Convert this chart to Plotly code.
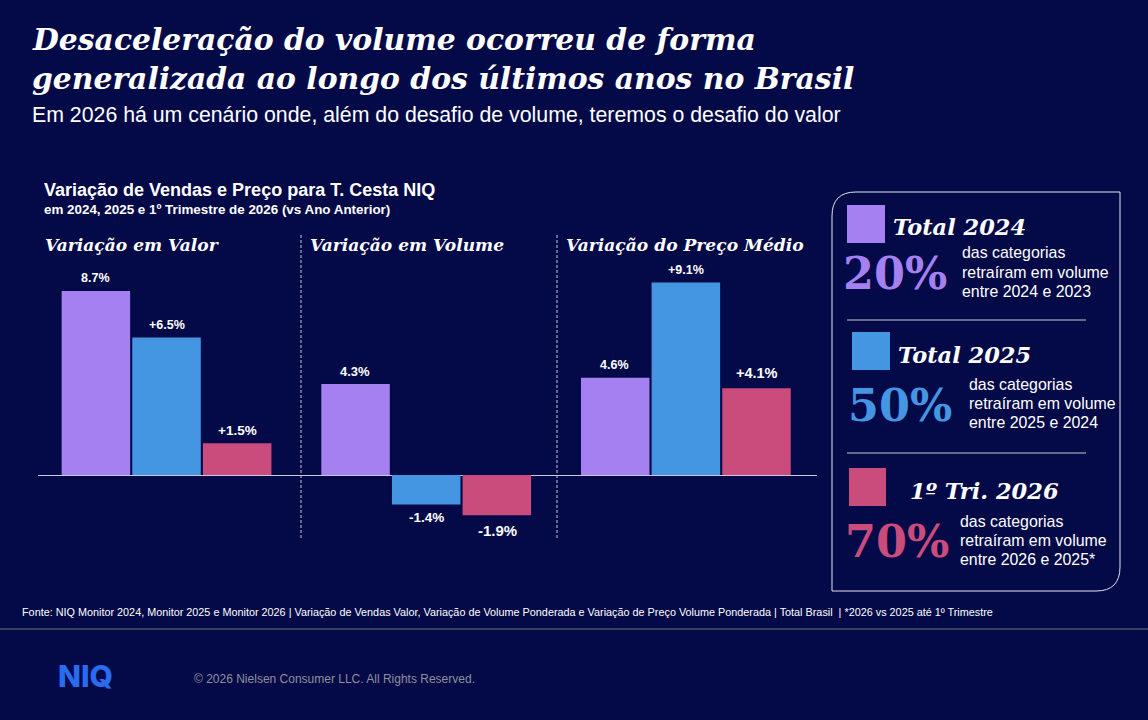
import plotly.graph_objects as go

W, H = 1148, 720
BG = '#040A48'
SERIF = 'DejaVu Serif'
SANS = 'Liberation Sans'

groups = ['Variação em Valor', 'Variação em Volume', 'Variação do Preço Médio']
periods = ['Total 2024', 'Total 2025', '1º Tri. 2026']
values_2024 = [8.7, 4.3, 4.6]
values_2025 = [6.5, -1.4, 9.1]
values_2026 = [1.5, -1.9, 4.1]
labels_2024 = ['8.7%', '4.3%', '4.6%']
labels_2025 = ['+6.5%', '-1.4%', '+9.1%']
labels_2026 = ['+1.5%', '-1.9%', '+4.1%']
colors = ['#A480F0', '#4596E2', '#C94C7C']
shares = ['20%', '50%', '70%']
share_lines = [
    ['das categorias', 'retraíram em volume', 'entre 2024 e 2023'],
    ['das categorias', 'retraíram em volume', 'entre 2025 e 2024'],
    ['das categorias', 'retraíram em volume', 'entre 2026 e 2025*'],
]


def px(x):
    return x / W


def py(y):
    return 1 - y / H


fig = go.Figure()

series = [(values_2024, labels_2024, [12.5, 13, 12.5]),
          (values_2025, labels_2025, [12.5, 13.5, 12.5]),
          (values_2026, labels_2026, [13.5, 15, 14.5])]
annotations = []
for i, (vals, labs, sizes) in enumerate(series):
    fig.add_trace(go.Bar(
        x=[0, 1, 2],
        y=vals,
        name=periods[i],
        marker=dict(color=colors[i], line=dict(width=0)),
        cliponaxis=False,
    ))
    # bar labels sit further from the bar than textposition='outside' allows
    for k, (v, lab, s) in enumerate(zip(vals, labs, sizes)):
        gap = 13 if s < 14 else 15
        annotations.append(dict(
            x=k + (i - 1) * 0.274, y=v, xref='x', yref='y', text=lab, showarrow=False,
            yanchor='middle', yshift=gap if v > 0 else -gap, borderpad=0,
            font=dict(family=SANS, size=s, color='white', weight='bold'),
        ))


def txt(x, y, s, size, color='white', family=SANS, bold=False, italic=False, anchor='left', weight=None):
    annotations.append(dict(
        x=px(x), y=py(y), xref='paper', yref='paper', text=s, showarrow=False,
        xanchor=anchor, yanchor='middle', borderpad=0,
        font=dict(family=family, size=size, color=color,
                  weight=weight or ('bold' if bold else 'normal'),
                  style='italic' if italic else 'normal'),
    ))


# header
txt(31, 39, 'Desaceleração do volume ocorreu de forma', 29.8, family=SERIF, bold=True, italic=True)
txt(31, 78, 'generalizada ao longo dos últimos anos no Brasil', 29.8, family=SERIF, bold=True, italic=True)
txt(31, 115, 'Em 2026 há um cenário onde, além do desafio de volume, teremos o desafio do valor', 21.3)

# chart titles
txt(43, 190, 'Variação de Vendas e Preço para T. Cesta NIQ', 18, bold=True)
txt(43, 209, 'em 2024, 2025 e 1º Trimestre de 2026 (vs Ano Anterior)', 13.4, bold=True)
for x, g in zip([44, 309, 565], groups):
    txt(x, 245, g, 17.1, family=SERIF, bold=True, italic=True)

# side panel
heads = [(892, 227), (897, 355), (909, 491)]
big = [(842, 273), (847, 405), (844, 541)]
note_x = [961, 968, 959]
note_y = [253, 384, 521]
for i in range(3):
    txt(heads[i][0], heads[i][1], periods[i], 22.5, family=SERIF, bold=True, italic=True)
    txt(big[i][0], big[i][1], shares[i], 44.5, color=colors[i], family=SERIF, bold=True)
    for j, line in enumerate(share_lines[i]):
        txt(note_x[i], note_y[i] + j * 19, line, 15.9)

# footer
txt(21, 612, 'Fonte: NIQ Monitor 2024, Monitor 2025 e Monitor 2026 | Variação de Vendas Valor, Variação de Volume '
    'Ponderada e Variação de Preço Volume Ponderada | Total Brasil  | *2026 vs 2025 até 1º Trimestre', 10.83)
txt(193, 679, '© 2026 Nielsen Consumer LLC. All Rights Reserved.', 12, color='#8F8F9C')
txt(57, 676, 'NIQ', 30, color='#2A6CF0', family='Inter', weight=800)

shapes = []


def rule(x0, y0, x1, y1, color, width=1, dash='solid'):
    shapes.append(dict(type='line', xref='paper', yref='paper',
                       x0=px(x0), y0=py(y0), x1=px(x1), y1=py(y1),
                       line=dict(color=color, width=width, dash=dash)))


rule(301, 235, 301, 538, '#C8C8D4', 1, '3px,2px')
rule(557, 235, 557, 538, '#C8C8D4', 1, '3px,2px')
rule(847, 320, 1086, 320, '#C8C8D4')
rule(847, 453, 1086, 453, '#C8C8D4')
rule(0, 629, W, 629, '#6E7068')

for (x0, y0, x1, y1), c in zip([(847, 205, 885, 243), (852, 332, 890, 370), (849, 468, 886, 506)], colors):
    shapes.append(dict(type='rect', xref='paper', yref='paper', x0=px(x0), y0=py(y0), x1=px(x1), y1=py(y1),
                       fillcolor=c, line=dict(width=0)))

# panel frame, only top left and bottom right corners are round
L, T, R, B, r = 832, 192, 1120, 591, 24
path = (f'M {px(L)} {py(B)} L {px(L)} {py(T + r)} Q {px(L)} {py(T)} {px(L + r)} {py(T)} '
        f'L {px(R)} {py(T)} L {px(R)} {py(B - r)} Q {px(R)} {py(B)} {px(R - r)} {py(B)} Z')
shapes.append(dict(type='path', xref='paper', yref='paper', path=path,
                   line=dict(color='#E4E4EC', width=1)))

fig.update_layout(
    width=W,
    height=H,
    margin=dict(l=0, r=0, t=0, b=0),
    paper_bgcolor=BG,
    plot_bgcolor=BG,
    showlegend=False,
    barmode='group',
    bargap=0.184,
    bargroupgap=0.03,
    annotations=annotations,
    shapes=shapes,
    xaxis=dict(domain=[px(38), px(817)], visible=False, range=[-0.495, 2.505]),
    yaxis=dict(domain=[py(540), py(230)], range=[-65 / 21.15, 245 / 21.15], showgrid=False,
               showticklabels=False, zeroline=True, zerolinecolor='#C8C8E0', zerolinewidth=1),
)

fig.write_html('out.html', config=dict(displayModeBar=False),
               post_script="document.body.style.margin='0';document.body.style.background='" + BG + "';")
